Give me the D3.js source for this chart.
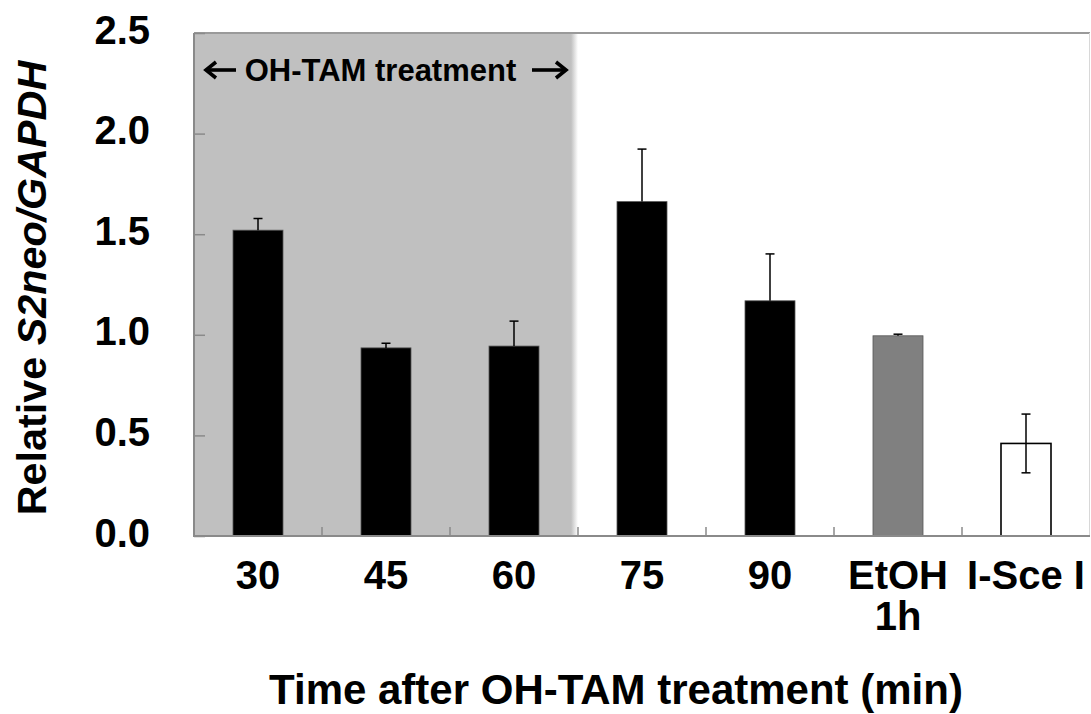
<!DOCTYPE html>
<html>
<head>
<meta charset="utf-8">
<script src="https://cdn.jsdelivr.net/npm/d3@7"></script>
<style>
  html, body { margin: 0; padding: 0; background: #fff; }
  svg { display: block; font-family: "Liberation Sans", Arial, Helvetica, sans-serif; font-weight: bold; }
</style>
</head>
<body>
<svg id="chart" width="1091" height="714"></svg>
<script>
// Relative S2neo/GAPDH expression after OH-TAM treatment
const categories = ["30", "45", "60", "75", "90", "EtOH 1h", "I-Sce I"];
const tickLabels = [["30"], ["45"], ["60"], ["75"], ["90"], ["EtOH", "1h"], ["I-Sce I"]];
const values = [1.52, 0.935, 0.944, 1.662, 1.169, 0.995, 0.46];
const errors = [0.058, 0.023, 0.124, 0.261, 0.233, 0.008, 0.146];
const treatedCategories = ["30", "45", "60"];
const yTicks = [0, 0.5, 1.0, 1.5, 2.0, 2.5];

const svg = d3.select("#chart");
const margin = { left: 194, right: 1, top: 33, bottom: 178 };
const W = 1091, H = 714;
const x0 = margin.left, x1 = W - margin.right;
const y0 = H - margin.bottom, y1 = margin.top;

const x = d3.scaleBand().domain(categories).range([x0, x1]).paddingInner(0).paddingOuter(0);
const y = d3.scaleLinear().domain([0, 2.5]).range([y0, y1]);
const fill = d3.scaleOrdinal().domain(categories)
  .range(["#000", "#000", "#000", "#000", "#000", "#808080", "#fff"]);

const barW = 50;

// shaded treatment window with a soft right edge
const defs = svg.append("defs");
const grad = defs.append("linearGradient").attr("id", "fade").attr("x1", 0).attr("x2", 1);
grad.append("stop").attr("offset", 0).attr("stop-color", "#c0c0c0");
grad.append("stop").attr("offset", 1).attr("stop-color", "#fff");

const shadeStart = x(treatedCategories[0]);
const shadeEnd = x(treatedCategories[treatedCategories.length - 1]) + x.bandwidth();
svg.append("rect")
  .attr("x", shadeStart).attr("y", y1)
  .attr("width", shadeEnd - shadeStart - 7).attr("height", y0 - y1)
  .attr("fill", "#c0c0c0");
svg.append("rect")
  .attr("x", shadeEnd - 7).attr("y", y1)
  .attr("width", 7).attr("height", y0 - y1)
  .attr("fill", "url(#fade)");

// frame: top and right edges
svg.append("line").attr("x1", x0).attr("x2", x1).attr("y1", y1).attr("y2", y1)
  .attr("stroke", "#9a9a9a").attr("stroke-width", 2);
svg.append("line").attr("x1", x1 - 0.5).attr("x2", x1 - 0.5).attr("y1", y1).attr("y2", y0)
  .attr("stroke", "#d8d8d8").attr("stroke-width", 1);

// bars
svg.append("g").selectAll("rect").data(categories).join("rect")
  .attr("x", d => x(d) + (x.bandwidth() - barW) / 2)
  .attr("y", (d, i) => y(values[i]))
  .attr("width", barW)
  .attr("height", (d, i) => y(0) - y(values[i]))
  .attr("fill", d => fill(d))
  .attr("stroke", (d, i) => i === categories.length - 1 ? "#000" : "#555")
  .attr("stroke-width", (d, i) => i === categories.length - 1 ? 1.6 : 0.8);

// error bars (lower whisker only visible on the open bar)
const capW = 9;
const eb = svg.append("g").attr("stroke", "#000").attr("stroke-width", 1.5);
categories.forEach((c, i) => {
  const cx = x(c) + x.bandwidth() / 2;
  const open = fill(c) === "#fff";
  const lo = open ? values[i] - errors[i] : values[i];
  const hi = values[i] + errors[i];
  eb.append("line").attr("x1", cx).attr("x2", cx).attr("y1", y(lo)).attr("y2", y(hi));
  eb.append("line").attr("x1", cx - capW / 2).attr("x2", cx + capW / 2).attr("y1", y(hi)).attr("y2", y(hi));
  if (open) eb.append("line").attr("x1", cx - capW / 2).attr("x2", cx + capW / 2).attr("y1", y(lo)).attr("y2", y(lo));
});

// y axis: line, inward ticks, labels
const yAxis = d3.axisRight(y).tickValues(yTicks).tickSize(11).tickFormat("");
const gy = svg.append("g").attr("transform", `translate(${x0},0)`).call(yAxis);
gy.select(".domain").remove();
gy.selectAll(".tick line").attr("stroke", "#8a8a8a").attr("stroke-width", 1.5);
svg.append("line").attr("x1", x0).attr("x2", x0).attr("y1", y1).attr("y2", y0 + 1)
  .attr("stroke", "#8a8a8a").attr("stroke-width", 2);
svg.append("g").selectAll("text").data(yTicks).join("text")
  .attr("x", 150).attr("y", d => y(d) + 10.5)
  .attr("text-anchor", "end").attr("font-size", 40).attr("fill", "#000")
  .text(d => d3.format(".1f")(d));

// x axis: line and upward ticks at category boundaries
const boundaries = categories.slice(1).map(c => x(c));
svg.append("g").selectAll("line").data(boundaries).join("line")
  .attr("x1", d => d).attr("x2", d => d).attr("y1", y0).attr("y2", y0 - 9)
  .attr("stroke", "#8a8a8a").attr("stroke-width", 1.5);
svg.append("line").attr("x1", x0 - 1).attr("x2", x1).attr("y1", y0).attr("y2", y0)
  .attr("stroke", "#8a8a8a").attr("stroke-width", 2);

const xl = svg.append("g").selectAll("text").data(categories).join("text")
  .attr("text-anchor", "middle").attr("font-size", 40).attr("fill", "#000")
  .attr("transform", d => `translate(${x(d) + x.bandwidth() / 2},${y0 + 53})`);
xl.each(function (d, i) {
  const t = d3.select(this);
  tickLabels[i].forEach((line, k) => {
    t.append("tspan").attr("x", 0).attr("dy", k === 0 ? 0 : 41).text(line);
  });
});

// axis titles
svg.append("text")
  .attr("x", 616).attr("y", 704)
  .attr("text-anchor", "middle").attr("font-size", 42).attr("fill", "#000")
  .text("Time after OH-TAM treatment (min)");

const yt = svg.append("text")
  .attr("transform", "translate(46,288) rotate(-90)")
  .attr("text-anchor", "middle").attr("font-size", 41.3).attr("fill", "#000");
yt.append("tspan").text("Relative ");
yt.append("tspan").attr("font-style", "italic").text("S2neo/GAPDH");

// treatment window annotation: label flanked by drawn arrows
const noteY = 81;
const note = svg.append("g");
note.append("text")
  .attr("x", (shadeStart + shadeEnd - 7) / 2 - 2).attr("y", noteY)
  .attr("text-anchor", "middle").attr("font-size", 31).attr("fill", "#000")
  .text("OH-TAM treatment");
const arrowY = noteY - 11;
const arrows = [
  { from: shadeStart + 42, to: shadeStart + 12 },
  { from: shadeEnd - 46, to: shadeEnd - 12 }
];
arrows.forEach(a => {
  const dir = Math.sign(a.to - a.from);
  note.append("line")
    .attr("x1", a.from).attr("x2", a.to - dir * 2).attr("y1", arrowY).attr("y2", arrowY)
    .attr("stroke", "#000").attr("stroke-width", 3.6);
  note.append("path")
    .attr("d", `M${a.to - dir * 10},${arrowY - 8} L${a.to},${arrowY} L${a.to - dir * 10},${arrowY + 8}`)
    .attr("fill", "none").attr("stroke", "#000").attr("stroke-width", 3.6)
    .attr("stroke-linejoin", "miter").attr("stroke-linecap", "butt");
});
</script>
</body>
</html>
